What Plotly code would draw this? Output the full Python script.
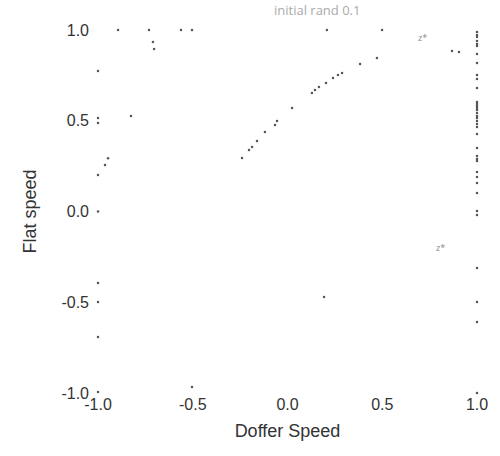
import plotly.graph_objects as go

# Doffer speed (x) and Flat speed (y) samples
top_x = [-0.894, -0.731, -0.562, -0.504, 0.208, 0.499]
top_y = [1.0] * len(top_x)

misc_x = [-0.71, -0.704, -0.826, -0.947, -0.963, 0.868, 0.905, -0.504, 0.193]
misc_y = [0.934, 0.895, 0.526, 0.293, 0.256, 0.884, 0.879, -0.967, -0.471]

left_y = [0.774, 0.515, 0.488, 0.201, 0.0, -0.394, -0.499, -0.691, -0.994]
left_x = [-1.0] * len(left_y)

curve_x = [-0.240, -0.203, -0.187, -0.161, -0.119, -0.066, -0.055, 0.024, 0.129,
           0.145, 0.166, 0.203, 0.240, 0.266, 0.288, 0.383, 0.472]
curve_y = [0.295, 0.339, 0.355, 0.388, 0.438, 0.477, 0.499, 0.570, 0.653,
           0.669, 0.686, 0.708, 0.735, 0.752, 0.763, 0.813, 0.846]

right_y = [0.989, 0.972, 0.961, 0.939, 0.923, 0.912, 0.868, 0.818, 0.752, 0.730,
           0.680, 0.603, 0.592, 0.581, 0.570, 0.559, 0.543, 0.526, 0.515, 0.499,
           0.482, 0.466, 0.427, 0.350, 0.306, 0.289, 0.278, 0.218, 0.190, 0.157,
           0.102, 0.003, -0.019, -0.311, -0.499, -0.609, -1.000]
right_x = [1.0] * len(right_y)

tick_vals = [-1.0, -0.5, 0.0, 0.5, 1.0]
tick_text = ["-1.0", "-0.5", "0.0", "0.5", "1.0"]

xs = top_x + misc_x + left_x + curve_x + right_x
ys = top_y + misc_y + left_y + curve_y + right_y

fig = go.Figure()
fig.add_trace(go.Scatter(
    x=xs, y=ys, mode="markers",
    marker=dict(size=2.5, color="#555555", line=dict(width=0)),
    cliponaxis=False, showlegend=False,
))

fig.add_annotation(x=0.715, y=0.959, text="z*", showarrow=False,
                   font=dict(size=9, color="#888888"))
fig.add_annotation(x=0.805, y=-0.201, text="z*", showarrow=False,
                   font=dict(size=9, color="#888888"))
fig.add_annotation(xref="paper", yref="paper", x=(317 - 98) / (477 - 98),
                   y=1 + (30 - 10) / (393 - 30), yanchor="middle", xanchor="center",
                   text="initial rand 0.1",
                   showarrow=False, font=dict(size=13, color="#aaaaaa"))

axis_font = dict(family="Liberation Sans, Arial, sans-serif", size=16, color="#333333")
title_font = dict(family="Liberation Sans, Arial, sans-serif", size=18, color="#333333")

fig.update_layout(
    width=500, height=456,
    margin=dict(l=98, r=23, t=30, b=63),
    paper_bgcolor="white", plot_bgcolor="white",
    xaxis=dict(range=[-1, 1], tickvals=tick_vals, ticktext=tick_text,
               showgrid=False, zeroline=False, showline=False,
               tickfont=axis_font, ticks="",
               title=dict(text="Doffer Speed", font=title_font, standoff=12)),
    yaxis=dict(range=[-1, 1], tickvals=tick_vals, ticktext=tick_text,
               showgrid=False, zeroline=False, showline=False,
               tickfont=axis_font, ticks="", ticklabelstandoff=8,
               title=dict(text="Flat speed", font=title_font, standoff=20)),
)

fig.write_html("out.html")
